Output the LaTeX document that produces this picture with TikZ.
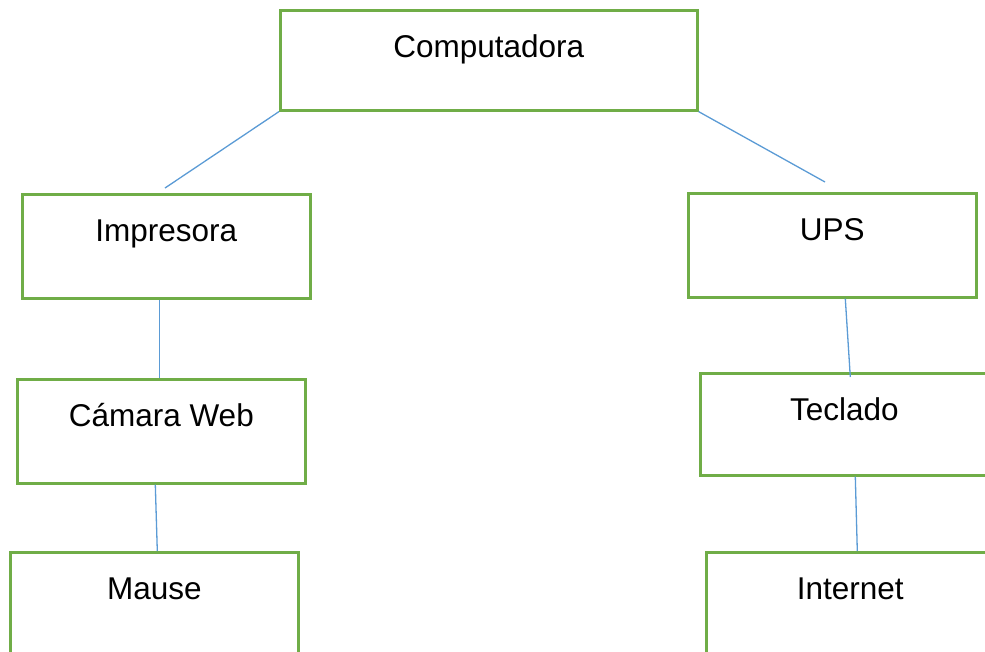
\documentclass[tikz,border=0pt]{standalone}
\usepackage{fontspec}
\setmainfont{Liberation Sans}
\usetikzlibrary{positioning}
\definecolor{boxgreen}{RGB}{112,173,71}
\definecolor{linkblue}{RGB}{91,155,213}
\tikzset{
    % green framed box, label near its top edge
    item/.style={draw=boxgreen, line width=2.6pt, anchor=north west,
                 inner xsep=0pt, inner ysep=0pt, minimum width=288pt,
                 text height=47pt, text depth=57pt,
                 font=\fontsize{31.5}{36}\selectfont},
    % thin blue connector
    link/.style={draw=linkblue, line width=1.3pt},
}

\begin{document}
\begin{tikzpicture}[x=1pt, y=-1pt]
    \useasboundingbox (0,0) rectangle (985,651);
    \clip (0,0) rectangle (985,651);

    % ===== top =====
    \node[item, minimum width=417pt, text depth=53pt] (comp) at (279, 9) {Computadora};

    % ===== left column =====
    \node[item] (imp) at (21, 193)  {Impresora};
    \node[item] (cam) at (16, 378)  {Cámara Web};
    \node[item] (mau) at (9, 551)   {Mause};

    % ===== right column =====
    \node[item] (ups) at (687, 192) {UPS};
    \node[item, text depth=55pt] (tec) at (699, 372) {Teclado};
    \node[item] (int) at (705, 551) {Internet};

    % loose ends under the top box
    \coordinate (impIn) at (165, 188);
    \coordinate (upsIn) at (825, 182);

    % connectors
    \draw[link] (comp.south west) -- (impIn);
    \draw[link] (comp.south east) -- (upsIn);
    \draw[link] ([xshift=-7pt]imp.south) -- ([xshift=-2pt]cam.north);
    \draw[link] ([xshift=-6pt]cam.south) -- ([xshift=3pt]mau.north);
    \draw[link] ([xshift=13pt]ups.south) -- ([xshift=6pt, yshift=-5pt]tec.north);
    \draw[link] ([xshift=11pt]tec.south) -- ([xshift=7pt]int.north);
\end{tikzpicture}
\end{document}
